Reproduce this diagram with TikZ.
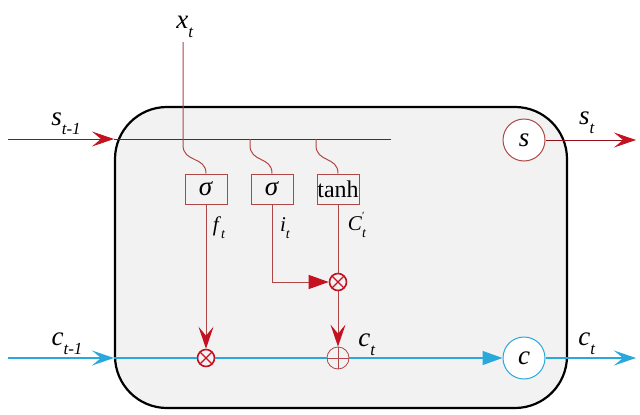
\documentclass[tikz,border=0pt]{standalone}
\usepackage{fontspec}
\setmainfont{Liberation Serif}
\usetikzlibrary{arrows.meta}
\definecolor{boxgray}{RGB}{242,242,242}
\definecolor{wirered}{RGB}{176,70,70}
\definecolor{arrred}{RGB}{196,18,32}
\definecolor{cyanline}{RGB}{41,168,220}
\newcommand{\lbl}[2]{\fontsize{27}{27}\selectfont\textit{#1}\raisebox{-0.7ex}{\fontsize{17}{17}\selectfont\textit{#2}}}
\tikzset{
  wire/.style={draw=wirered, line width=1pt},
  swire/.style={draw=arrred!75!black, line width=1pt},
  cwire/.style={draw=cyanline, line width=1.4pt},
  rvtip/.style={-{Stealth[length=22pt,width=15pt,inset=9pt,color=arrred]}},
  cvtip/.style={-{Stealth[length=22pt,width=15pt,inset=9pt,color=cyanline]}},
  rttip/.style={-{Triangle[length=20pt,width=14pt,color=arrred]}},
  cttip/.style={-{Triangle[length=20pt,width=14pt,color=cyanline]}},
  gate/.style={draw=wirered, line width=1pt, fill=boxgray, minimum width=42pt, minimum height=30pt, inner sep=0pt},
  mult/.style={circle, draw=arrred, line width=1.6pt, fill=boxgray, minimum size=17pt, inner sep=0pt,
    path picture={\draw[arrred,line width=1.4pt] (path picture bounding box.north west) -- (path picture bounding box.south east) (path picture bounding box.north east) -- (path picture bounding box.south west);}},
  plus/.style={circle, draw=wirered, line width=0.8pt, minimum size=22pt, inner sep=0pt,
    path picture={\draw[wirered,line width=0.8pt] (path picture bounding box.north) -- (path picture bounding box.south) (path picture bounding box.west) -- (path picture bounding box.east);}},
  circ/.style={circle, minimum size=42pt, inner sep=0pt, fill=white, line width=1pt, font=\fontsize{27}{27}\selectfont\itshape},
  lab/.style={inner sep=0pt}
}
\begin{document}
\begin{tikzpicture}[x=1pt,y=-1pt]
\useasboundingbox (0,0) rectangle (640,415);
\fill[white] (0,0) rectangle (640,415);
% main cell
\draw[line width=2.2pt, fill=boxgray, rounded corners=52pt] (115,107) rectangle (567,408);
% nodes
\node[gate] (g1) at (206,189) {\fontsize{27}{27}\selectfont\textit{σ}};
\node[gate] (g2) at (272,189) {\fontsize{27}{27}\selectfont\textit{σ}};
\node[gate] (g3) at (338,189) {\fontsize{24}{24}\selectfont tanh};
\node[mult] (m1) at (206,358) {};
\node[mult] (m2) at (338,282) {};
\node[plus] (p1) at (338,358) {};
\node[circ, draw=wirered] (S) at (524,140) {s};
\node[circ, draw=cyanline] (C) at (524,358) {c};
% coordinates
\coordinate (sin) at (8,139);
\coordinate (sarr) at (114,139);
\coordinate (send) at (391,139);
\coordinate (xin) at (183,42);
\coordinate (xb) at (183,145);
\coordinate (b2) at (250,139);
\coordinate (b2b) at (250,145);
\coordinate (b3) at (316,139);
\coordinate (b3b) at (316,145);
\coordinate (cin) at (8,358);
\coordinate (carr) at (114,358);
\coordinate (sout) at (636,140);
\coordinate (cout) at (636,358);
% state line
\draw[swire, rvtip] (sin) -- (sarr);
\draw[swire] (sarr) -- (send);
% input x and gate feeds
\draw[wire] (xin) -- (xb) .. controls (183,163) and (206,156) .. (g1.north);
\draw[wire] (b2) -- (b2b) .. controls (250,163) and (272,156) .. (g2.north);
\draw[wire] (b3) -- (b3b) .. controls (316,163) and (338,156) .. (g3.north);
% gate outputs
\draw[wire, rvtip] (g1) -- (m1);
\draw[wire, rttip] (g2.south) |- (m2);
\draw[wire] (g3) -- (m2);
\draw[wire, rvtip] (m2) -- (p1);
% cell line
\draw[cwire, cvtip] (cin) -- (carr);
\draw[cwire] (carr) -- (m1);
\draw[cwire] (m1) -- (p1);
\draw[cwire, cttip] (p1) -- (C);
% outputs
\draw[swire, rvtip] (S) -- (sout);
\draw[cwire, cvtip] (C) -- (cout);
% labels
\node[lab] (lx) at (185,27) {\lbl{x}{t}};
\node[lab] (ls1) at (66,124) {\lbl{s}{t-1}};
\node[lab] (ls) at (587,123) {\lbl{s}{t}};
\node[lab] (lc1) at (67,344) {\lbl{c}{t-1}};
\node[lab] (lc) at (367,345) {\lbl{c}{t}};
\node[lab] (lco) at (587,344) {\lbl{c}{t}};
\node[lab] (lf) at (219,228) {\fontsize{21}{21}\selectfont\textit{f}\raisebox{-0.7ex}{\fontsize{14}{14}\selectfont\textit{t}}};
\node[lab] (li) at (285,228) {\fontsize{21}{21}\selectfont\textit{i}\raisebox{-0.7ex}{\fontsize{14}{14}\selectfont\textit{t}}};
\node[lab] (lC) at (357,225) {\fontsize{21}{21}\selectfont\textit{C}\rlap{\raisebox{1.2ex}{\fontsize{11}{11}\selectfont ′}}\raisebox{-0.7ex}{\fontsize{14}{14}\selectfont\textit{t}}};
\end{tikzpicture}
\end{document}
